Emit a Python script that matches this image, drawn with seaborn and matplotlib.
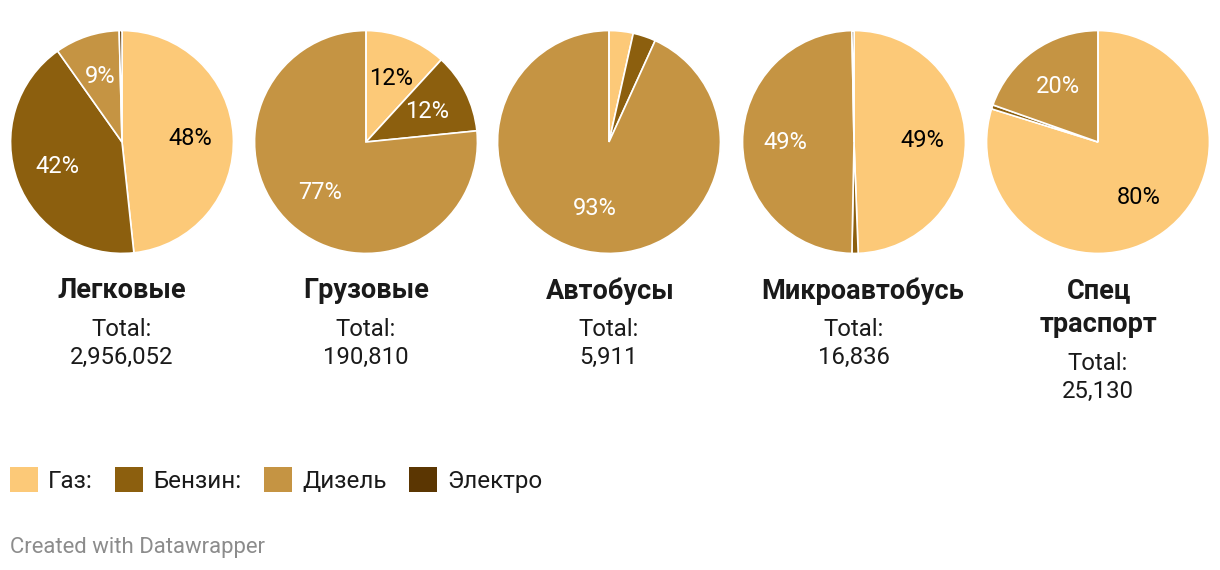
import matplotlib
matplotlib.use("Agg")
import matplotlib.pyplot as plt
from matplotlib.patches import Patch
import seaborn as sns
import pandas as pd
import numpy as np

# ---- data ----
categories = ["Легковые", "Грузовые", "Автобусы", "Микроавтобусь", "Спец\nтраспорт"]
totals = ["2,956,052", "190,810", "5,911", "16,836", "25,130"]
fuels = ["Газ:", "Бензин:", "Дизель", "Электро"]
gas = [48.3, 11.8, 3.5, 49.4, 79.8]
petrol = [41.9, 11.6, 3.3, 0.9, 0.6]
diesel = [9.4, 76.6, 93.2, 49.4, 19.6]
electro = [0.4, 0.0, 0.0, 0.3, 0.0]
colors = ["#fcc978", "#8c5f0e", "#c59443", "#5b3602"]

df = pd.DataFrame({"Газ:": gas, "Бензин:": petrol, "Дизель": diesel, "Электро": electro},
                  index=categories)

sns.set_theme(style="white")
plt.rcParams["font.family"] = ["Roboto", "DejaVu Sans"]

W, H = 1220, 570
fig = plt.figure(figsize=(W / 100, H / 100), dpi=100)

centers_x = [122, 366, 609, 854, 1098]
title_dx = [0, 0, 1, 9, 1]
cy, r = 142, 112

for i, cat in enumerate(categories):
    cx = centers_x[i]
    ax = fig.add_axes([(cx - r) / W, 1 - (cy + r) / H, 2 * r / W, 2 * r / H])
    vals = df.loc[cat].values
    ax.pie(vals, colors=colors, startangle=90, counterclock=False,
           wedgeprops=dict(edgecolor="white", linewidth=1.2))
    total = vals.sum()
    cum = 0
    for j, v in enumerate(vals):
        mid = cum + v / 2
        cum += v
        pct = v / total * 100
        if pct < 5:
            continue
        ang = np.deg2rad(90 - mid / total * 360)
        ax.text(0.615 * np.cos(ang), 0.615 * np.sin(ang), f"{pct:.0f}%",
                ha="center", va="center", fontsize=17,
                color="black" if j == 0 else "white")
    ax.set_xlim(-1.005, 1.005)
    ax.set_ylim(-1.005, 1.005)
    ax.set_aspect("equal")
    ax.axis("off")

    lines = cat.split("\n")
    y = 291
    for ln in lines:
        fig.text((cx + title_dx[i]) / W, 1 - y / H, ln, ha="center", va="center",
                 fontsize=19.5, fontweight="bold", color="#1a1a1a")
        y += 34
    yt = y + 5
    fig.text(cx / W, 1 - yt / H, "Total:", ha="center", va="center", fontsize=17.2,
             color="#1a1a1a")
    fig.text(cx / W, 1 - (yt + 27) / H, totals[i], ha="center", va="center",
             fontsize=17.2, color="#1a1a1a")

fs = 17.4
fs_px = fs / 72 * 100
handles = [Patch(facecolor=c, edgecolor="none") for c in colors]
fig.legend(handles, fuels, loc="center left", bbox_to_anchor=(10 / W, 1 - 480 / H),
           ncol=4, frameon=False, borderaxespad=0, borderpad=0, fontsize=fs,
           handlelength=28 / fs_px, handleheight=28 / fs_px, handletextpad=10 / fs_px,
           columnspacing=22.5 / fs_px, labelcolor="#1a1a1a")

fig.text(10 / W, 1 - 547 / H, "Created with Datawrapper", ha="left", va="center",
         fontsize=15.9, color="#8c8c8c")

fig.savefig("out.png", dpi=100, facecolor="white")
